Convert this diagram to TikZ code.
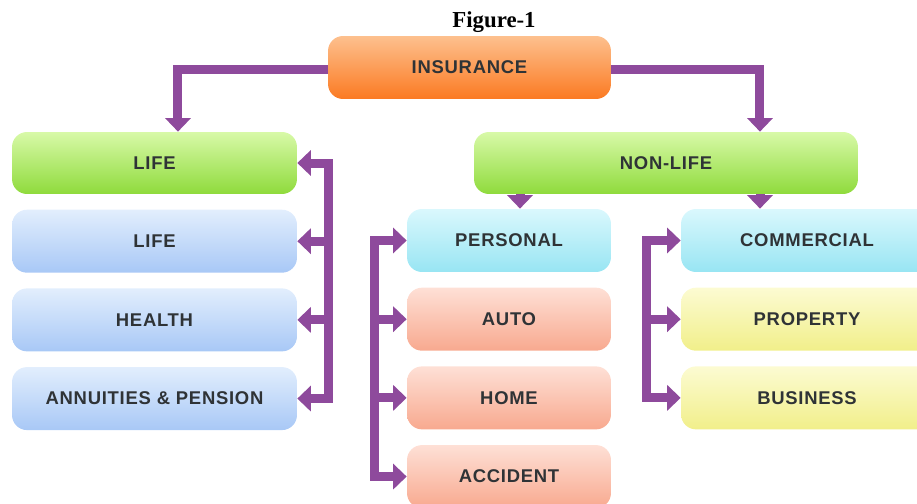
\documentclass[tikz,border=0pt]{standalone}
\usepackage{fontspec}
\setmainfont{Liberation Serif}
\setsansfont{Liberation Sans}[LetterSpace=4]
\usetikzlibrary{arrows.meta,positioning}
\definecolor{plum}{HTML}{8E4A9C}
\definecolor{txtgray}{HTML}{2F3336}
\definecolor{orgtop}{HTML}{FDC08E}
\definecolor{orgbot}{HTML}{FB7A22}
\definecolor{grntop}{HTML}{D8F9A8}
\definecolor{grnbot}{HTML}{8FDB3C}
\definecolor{blutop}{HTML}{E2EEFD}
\definecolor{blubot}{HTML}{A8C8F6}
\definecolor{cyntop}{HTML}{DAF8FD}
\definecolor{cynbot}{HTML}{98E5F3}
\definecolor{saltop}{HTML}{FEE0D6}
\definecolor{salbot}{HTML}{F8A98F}
\definecolor{yeltop}{HTML}{FCFBD2}
\definecolor{yelbot}{HTML}{F1EF8A}
\tikzset{
  blk/.style 2 args={rectangle,rounded corners=0.3cm,top color=#1,bottom color=#2,
              draw=none,minimum width=5.7cm,minimum height=1.26cm,
              font=\sffamily\bfseries\fontsize{10.5}{12}\selectfont,
              text=txtgray,inner sep=2pt},
  arr/.style={-{Triangle[length=0.27cm,width=0.5cm]},line width=0.18cm,color=plum},
  darr/.style={{Triangle[length=0.27cm,width=0.5cm]}-{Triangle[length=0.27cm,width=0.5cm]},
               line width=0.18cm,color=plum},
  ttl/.style={font=\rmfamily\bfseries\fontsize{13}{15}\selectfont,text=black},
}
\begin{document}
\begin{tikzpicture}[x=0.02cm,y=-0.02cm,node distance=0.3cm]

  \clip (0,0) rectangle (917,504);

  %% ── title and root ───────────────────────────────────────────────────────
  \node[ttl] (fig) at (494,22) {Figure-1};
  \node[blk={orgtop}{orgbot},minimum width=5.66cm] (ins) at (469.5,67.5) {INSURANCE};

  %% ── life branch ──────────────────────────────────────────────────────────
  \node[blk={grntop}{grnbot},minimum height=1.24cm] (life) at (154.5,163) {LIFE};
  \node[blk={blutop}{blubot},below=of life]   (lifea)  {LIFE};
  \node[blk={blutop}{blubot},below=of lifea]  (health) {HEALTH};
  \node[blk={blutop}{blubot},below=of health] (annu)   {ANNUITIES \& PENSION};

  %% ── non-life branch ──────────────────────────────────────────────────────
  \node[blk={grntop}{grnbot},minimum width=7.68cm,minimum height=1.24cm]
        (nonlife) at (666,163) {NON-LIFE};
  \node[blk={cyntop}{cynbot},minimum width=4.08cm] (pers) at (509,240.5) {PERSONAL};
  \node[blk={saltop}{salbot},minimum width=4.08cm,below=of pers] (auto)  {AUTO};
  \node[blk={saltop}{salbot},minimum width=4.08cm,below=of auto] (home)  {HOME};
  \node[blk={saltop}{salbot},minimum width=4.08cm,below=of home] (accid) {ACCIDENT};

  \node[blk={cyntop}{cynbot},minimum width=5.04cm] (comm) at (807,240.5) {COMMERCIAL};
  \node[blk={yeltop}{yelbot},minimum width=5.04cm,below=of comm] (prop) {PROPERTY};
  \node[blk={yeltop}{yelbot},minimum width=5.04cm,below=of prop] (busi) {BUSINESS};

  %% ── arrows from root ─────────────────────────────────────────────────────
  \draw[arr] ([yshift=-0.03cm]ins.west) -| ([xshift=0.47cm]life.north);
  \draw[arr] ([yshift=-0.03cm]ins.east) -| ([xshift=1.88cm]nonlife.north);

  %% ── life bracket ─────────────────────────────────────────────────────────
  \draw[darr] (life.east) -- ++(0.62cm,0) |- (annu.east);
  \draw[arr] ([xshift=0.62cm]lifea.east)  -- (lifea.east);
  \draw[arr] ([xshift=0.62cm]health.east) -- (health.east);

  %% ── non-life drops ───────────────────────────────────────────────────────
  \draw[arr] ([xshift=0.22cm]pers.north |- nonlife.south) -- ([xshift=0.22cm]pers.north);
  \draw[arr] ([xshift=-0.94cm]comm.north |- nonlife.south) -- ([xshift=-0.94cm]comm.north);

  %% ── personal bracket ─────────────────────────────────────────────────────
  \draw[darr] (pers.west) -- ++(-0.64cm,0) |- (accid.west);
  \draw[arr] ([xshift=-0.64cm]auto.west) -- (auto.west);
  \draw[arr] ([xshift=-0.64cm]home.west) -- (home.west);

  %% ── commercial bracket ───────────────────────────────────────────────────
  \draw[darr] (comm.west) -- ++(-0.68cm,0) |- (busi.west);
  \draw[arr] ([xshift=-0.68cm]prop.west) -- (prop.west);

\end{tikzpicture}
\end{document}
